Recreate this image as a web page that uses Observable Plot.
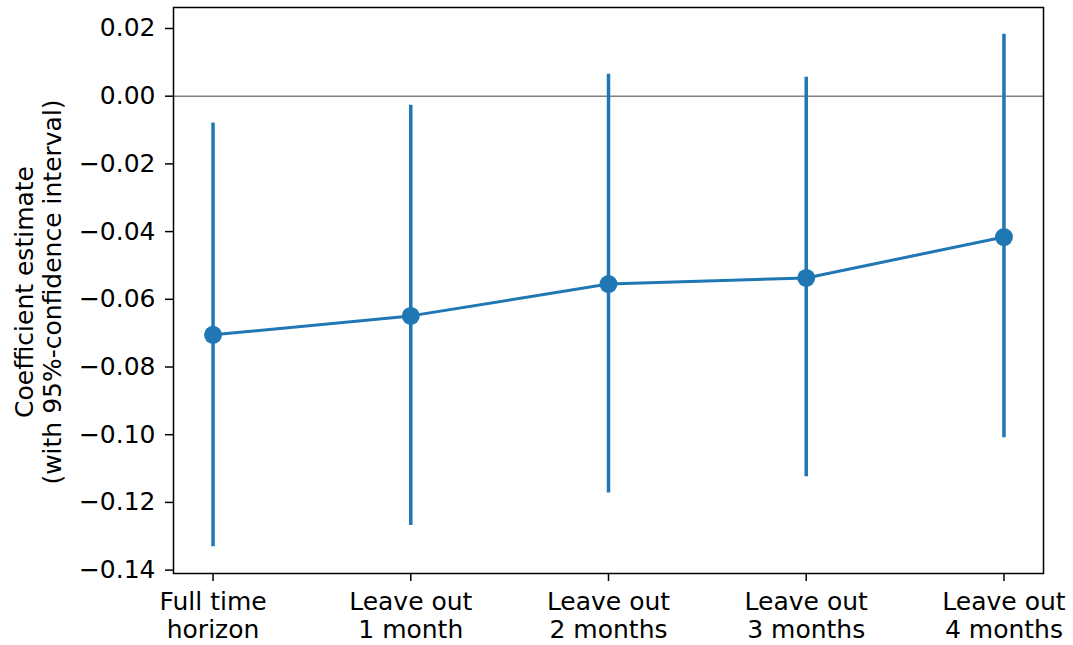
<!DOCTYPE html>
<html>
<head>
<meta charset="utf-8">
<script src="https://cdn.jsdelivr.net/npm/d3@7"></script>
<script src="https://cdn.jsdelivr.net/npm/@observablehq/plot@0.6"></script>
<style>
  body { margin: 0; background: #fff; }
  #chart svg { display: block; }
</style>
</head>
<body>
<div id="chart"></div>
<script>
const categories = ["Full time\nhorizon", "Leave out\n1 month", "Leave out\n2 months", "Leave out\n3 months", "Leave out\n4 months"];
const estimates = [-0.0705, -0.0649, -0.0555, -0.0537, -0.0416];
const lower = [-0.1331, -0.1268, -0.1172, -0.1124, -0.1009];
const upper = [-0.0079, -0.0027, 0.0065, 0.0056, 0.0183];
const yTicks = [-0.14, -0.12, -0.10, -0.08, -0.06, -0.04, -0.02, 0.00, 0.02];

const data = categories.map((c, i) => ({i, c, est: estimates[i], lo: lower[i], hi: upper[i]}));
const blue = "#1f77b4";
const fmt = v => (v < 0 ? "\u2212" : "") + Math.abs(v).toFixed(2);
const xTicks = categories.map((_, i) => i);

const chart = Plot.plot({
  width: 1073,
  height: 645,
  marginLeft: 173,
  marginRight: 30,
  marginTop: 7,
  marginBottom: 72,
  style: {fontFamily: "DejaVu Sans", fontSize: "25px", color: "#000", background: "#fff"},
  x: {type: "linear", domain: [-0.2, 4.2], label: null},
  y: {domain: [-0.141, 0.0262], label: null},
  marks: [
    Plot.ruleY([0], {stroke: "#808080", strokeWidth: 1.5}),
    Plot.ruleX(data, {x: "i", y1: "lo", y2: "hi", stroke: blue, strokeWidth: 3.5}),
    Plot.line(data, {x: "i", y: "est", stroke: blue, strokeWidth: 3}),
    Plot.dot(data, {x: "i", y: "est", r: 9, fill: blue, stroke: "none"}),
    Plot.axisX({ticks: xTicks, tickFormat: i => categories[i], tickSize: 8, tickPadding: 9, strokeWidth: 1.5, lineHeight: 1.1, fontSize: 25}),
    Plot.axisY({ticks: yTicks, tickFormat: fmt, tickSize: 8, tickPadding: 10, strokeWidth: 1.5, fontSize: 25}),
    Plot.frame({stroke: "#000", strokeWidth: 1.5})
  ]
});

document.getElementById("chart").appendChild(chart);

// rotated two-line y-axis label
const svg = d3.select(chart);
const cy = 292;
const lbl = svg.append("text")
  .attr("transform", `translate(33,${cy}) rotate(-90)`)
  .attr("text-anchor", "middle")
  .attr("font-family", "DejaVu Sans")
  .attr("font-size", 25)
  .attr("fill", "#000");
lbl.append("tspan").attr("x", 0).attr("dy", 0).text("Coefficient estimate");
lbl.append("tspan").attr("x", 0).attr("dy", 28).text("(with 95%-confidence interval)");
</script>
</body>
</html>
